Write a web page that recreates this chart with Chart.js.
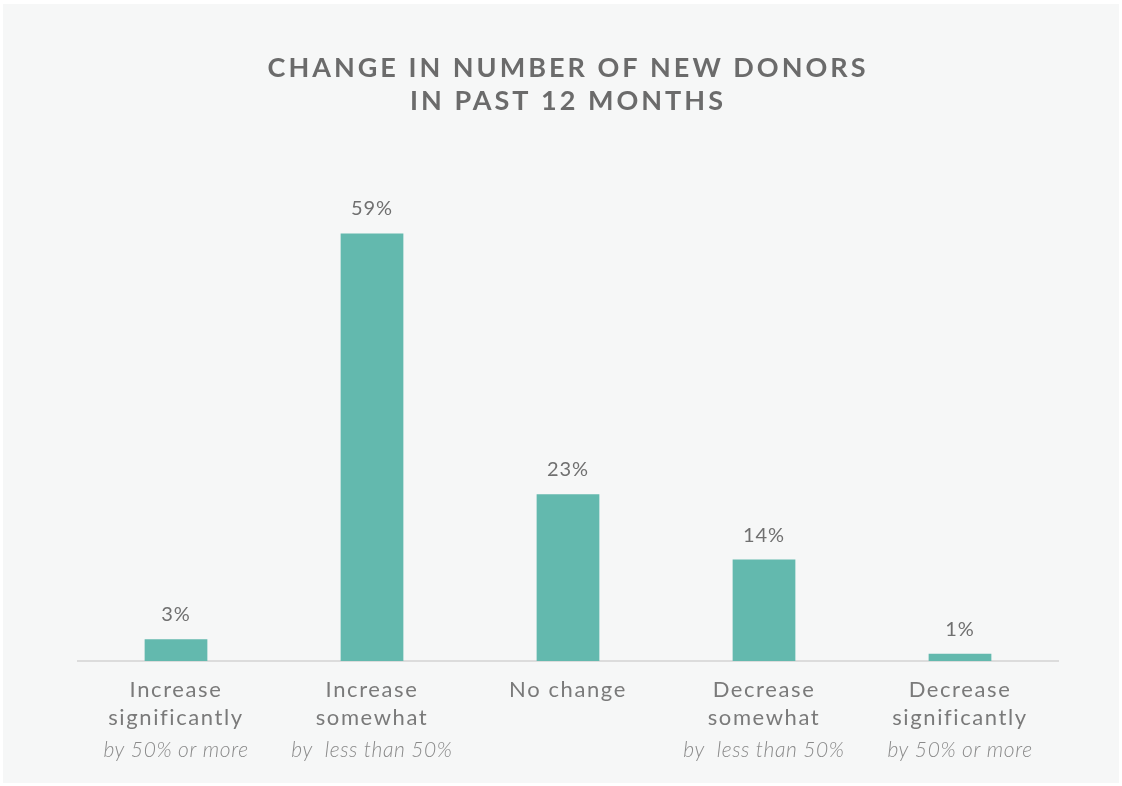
<!DOCTYPE html>
<html>
<head>
<meta charset="utf-8">
<script src="https://cdn.jsdelivr.net/npm/chart.js@4/dist/chart.umd.min.js"></script>
<style>
  html, body { margin: 0; padding: 0; background: #ffffff; }
  #wrap { width: 1122px; height: 786px; }
</style>
</head>
<body>
<div id="wrap"><canvas id="chart" width="1122" height="786"></canvas></div>
<script>
// Chart text and values
const titleLines = ['CHANGE IN NUMBER OF NEW DONORS', 'IN PAST 12 MONTHS'];
const categories = ['Increase significantly', 'Increase somewhat', 'No change', 'Decrease somewhat', 'Decrease significantly'];
const labelMain = [
  ['Increase', 'significantly'],
  ['Increase', 'somewhat'],
  ['No change'],
  ['Decrease', 'somewhat'],
  ['Decrease', 'significantly']
];
const labelNote = ['by 50% or more', 'by  less than 50%', '', 'by  less than 50%', 'by 50% or more'];
const shares = [3, 59, 23, 14, 1];

const FONT = 'Lato, "Open Sans", sans-serif';

const decorPlugin = {
  id: 'decor',
  beforeDraw(chart) {
    const ctx = chart.ctx;
    ctx.save();
    ctx.fillStyle = '#f6f7f7';
    ctx.fillRect(3, 4, 1116, 779);
    ctx.restore();
  },
  afterDraw(chart) {
    const ctx = chart.ctx;
    const xScale = chart.scales.x;

    // Title
    ctx.save();
    ctx.fillStyle = '#6b6b6b';
    ctx.font = 'bold 27px ' + FONT;
    ctx.letterSpacing = '3px';
    ctx.textAlign = 'center';
    ctx.textBaseline = 'middle';
    titleLines.forEach((line, i) => ctx.fillText(line, 568, 68 + i * 33));
    ctx.restore();

    // Value labels above bars
    const meta = chart.getDatasetMeta(0);
    ctx.save();
    ctx.fillStyle = '#707070';
    ctx.font = '20px ' + FONT;
    ctx.letterSpacing = '1px';
    ctx.textAlign = 'center';
    ctx.textBaseline = 'alphabetic';
    meta.data.forEach((bar, i) => {
      ctx.fillText(shares[i] + '%', bar.x, bar.y - 18);
    });
    ctx.restore();

    // Category labels under the axis
    ctx.save();
    ctx.textAlign = 'center';
    ctx.textBaseline = 'middle';
    categories.forEach((_, i) => {
      const x = xScale.getPixelForValue(i);
      ctx.fillStyle = '#7a7a7a';
      ctx.font = '22px ' + FONT;
      ctx.letterSpacing = '1.6px';
      labelMain[i].forEach((line, j) => ctx.fillText(line, x, 690 + j * 28));
      if (labelNote[i]) {
        ctx.fillStyle = '#8a8a8a';
        ctx.font = 'italic 300 21px ' + FONT;
        ctx.letterSpacing = '0.6px';
        ctx.fillText(labelNote[i], x, 750);
      }
    });
    ctx.restore();
  }
};

new Chart(document.getElementById('chart'), {
  type: 'bar',
  data: {
    labels: categories,
    datasets: [{
      data: shares,
      backgroundColor: '#63b9ae',
      borderWidth: 0,
      barPercentage: 0.32,
      categoryPercentage: 1.0
    }]
  },
  options: {
    responsive: false,
    devicePixelRatio: 1,
    animation: false,
    layout: { padding: { top: 190, bottom: 125, left: 78, right: 64 } },
    plugins: {
      legend: { display: false },
      title: { display: false },
      tooltip: { enabled: false }
    },
    scales: {
      x: {
        grid: { display: false, drawTicks: false },
        border: { display: true, color: '#dcdcdc', width: 2 },
        ticks: { display: false }
      },
      y: {
        display: false,
        min: 0,
        max: 65
      }
    }
  },
  plugins: [decorPlugin]
});
</script>
</body>
</html>
